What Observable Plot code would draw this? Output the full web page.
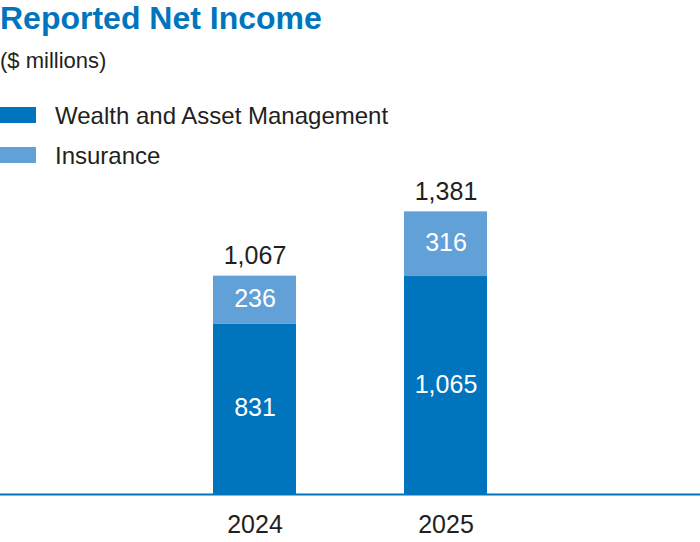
<!DOCTYPE html>
<html>
<head>
<meta charset="utf-8">
<script src="https://cdn.jsdelivr.net/npm/d3@7"></script>
<script src="https://cdn.jsdelivr.net/npm/@observablehq/plot@0.6"></script>
<style>
  html, body { margin: 0; padding: 0; background: #fff; }
  body { width: 700px; height: 542px; overflow: hidden; font-family: "Liberation Sans", sans-serif; color: #231f20; }
  #header { position: relative; height: 150px; }
  #header .t { position: absolute; left: 0; white-space: nowrap; line-height: normal; }
  #title { top: 0px; font-size: 32px; font-weight: bold; color: #0075BE; }
  #subtitle { top: 48px; font-size: 22px; }
  .leg { position: absolute; left: 0; width: 36px; height: 16px; }
  .legtxt { left: 55px !important; font-size: 24px; }
  #chart { position: relative; }
</style>
</head>
<body>
<div id="header">
  <div class="t" id="title">Reported Net Income</div>
  <div class="t" id="subtitle">($ millions)</div>
  <div id="legend"></div>
</div>
<div id="chart"></div>
<script>
const years = ["2024", "2025"];
const seriesNames = ["Wealth and Asset Management", "Insurance"];
const wealthValues = [831, 1065];
const insuranceValues = [236, 316];
const totals = [1067, 1381];
const colors = ["#0075BE", "#62A0D8"];

const fmt = d3.format(",");

// legend
const legend = document.getElementById("legend");
const legTops = [107, 147];
seriesNames.forEach((name, i) => {
  const sw = document.createElement("div");
  sw.className = "leg";
  sw.style.top = legTops[i] + "px";
  sw.style.background = colors[i];
  legend.appendChild(sw);
  const tx = document.createElement("div");
  tx.className = "t legtxt";
  tx.style.top = (legTops[i] - 5) + "px";
  tx.textContent = name;
  legend.appendChild(tx);
});

const data = [];
years.forEach((y, i) => {
  data.push({year: y, series: seriesNames[0], value: wealthValues[i], mid: wealthValues[i] / 2});
  data.push({year: y, series: seriesNames[1], value: insuranceValues[i], mid: wealthValues[i] + insuranceValues[i] / 2});
});
const totalData = years.map((y, i) => ({year: y, total: totals[i]}));

const chart = Plot.plot({
  width: 700,
  height: 392,
  marginLeft: 0,
  marginRight: 0,
  marginTop: 37,
  marginBottom: 48,
  style: {fontFamily: "'Liberation Sans', sans-serif", color: "#231f20", background: "transparent", overflow: "visible"},
  x: {domain: years, paddingInner: 0.568, paddingOuter: 1.107, label: null},
  y: {domain: [0, 1500], axis: null},
  color: {domain: seriesNames, range: colors},
  marks: [
    Plot.barY(data, {x: "year", y: "value", fill: "series", order: seriesNames}),
    Plot.text(data, {x: "year", y: "mid", text: d => fmt(d.value), fill: "white", fontSize: 25, dy: -1}),
    Plot.text(totalData, {x: "year", y: "total", text: d => fmt(d.total), fill: "#231f20", fontSize: 25, lineAnchor: "bottom", dy: -12}),
    Plot.ruleY([0], {stroke: "#0075BE", strokeWidth: 2}),
    Plot.axisX({tickSize: 0, tickPadding: 21, fontSize: 25, fill: "#231f20", label: null})
  ]
});
document.getElementById("chart").appendChild(chart);
</script>
</body>
</html>
